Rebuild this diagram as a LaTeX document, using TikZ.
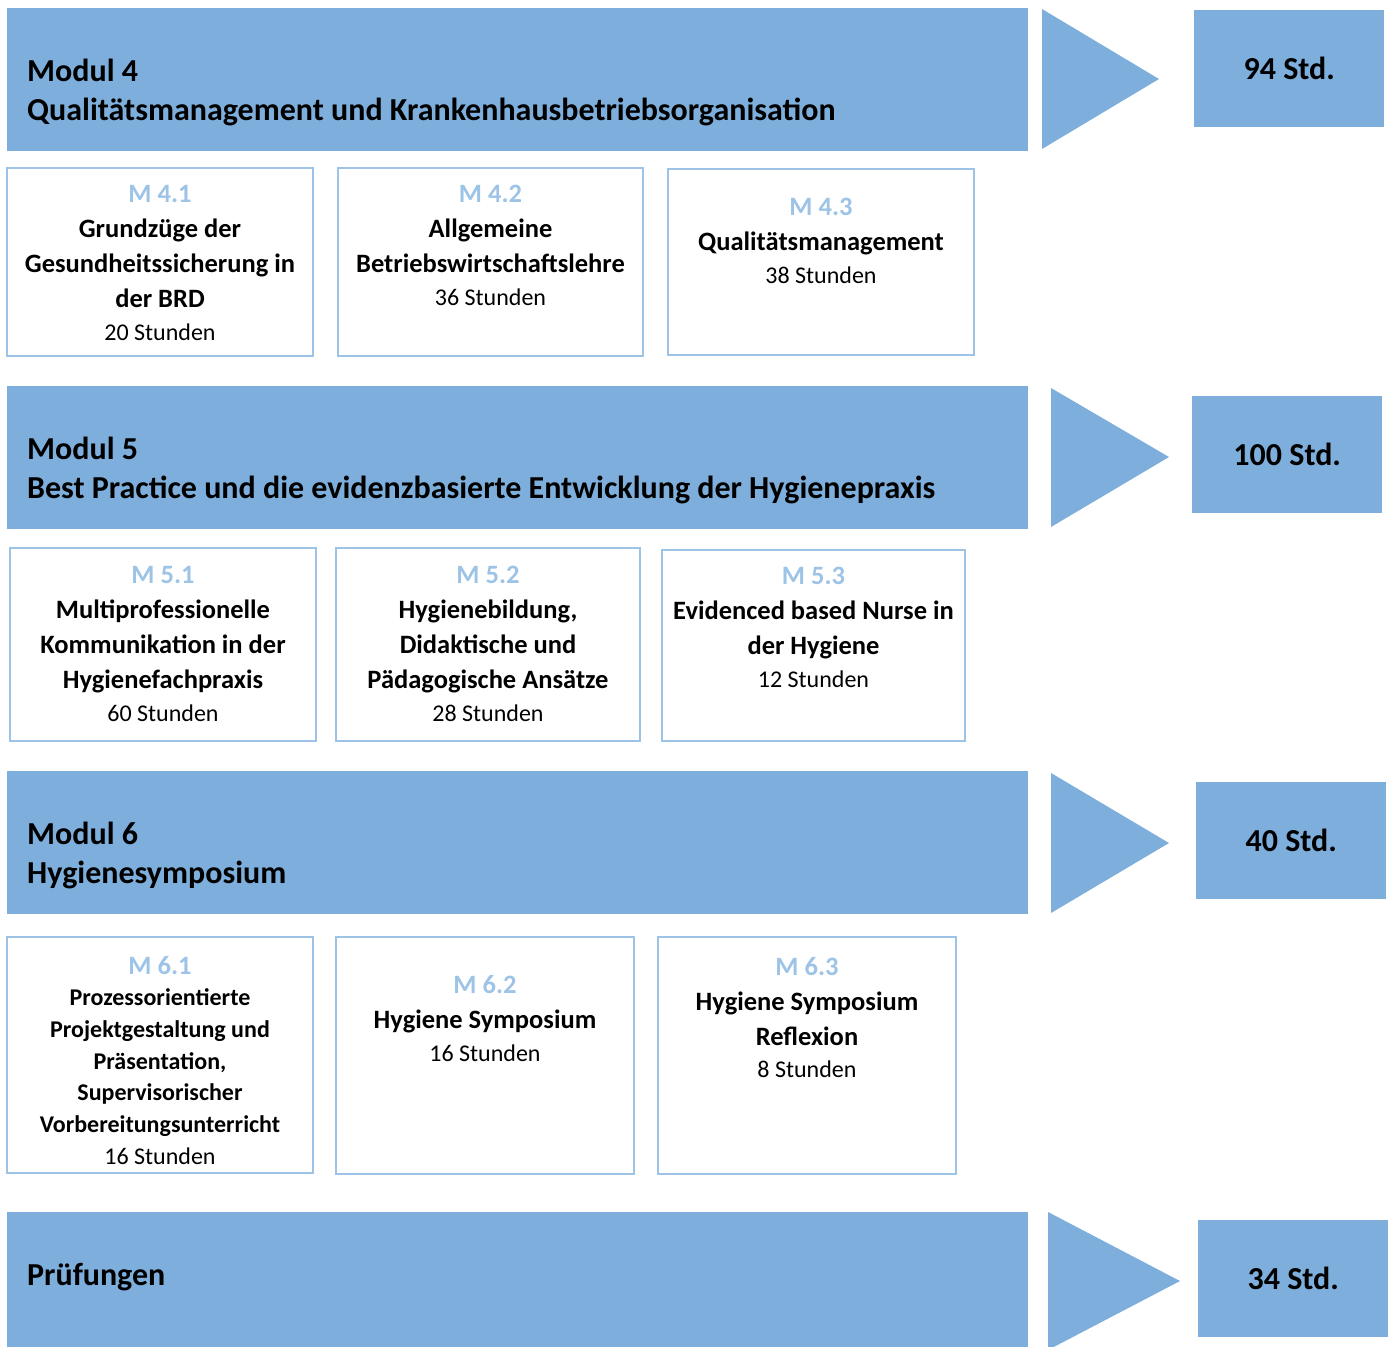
\documentclass[tikz,border=0pt]{standalone}
\usepackage{fontspec}
\setmainfont{Carlito}
\usetikzlibrary{positioning}
\definecolor{bandblue}{RGB}{125,174,220}
\definecolor{lineblue}{RGB}{157,195,230}
\newcommand{\mnr}[1]{\textcolor{lineblue}{#1}}
\newcommand{\hrs}[1]{{\mdseries\fontsize{24}{35}\selectfont #1}}

\begin{document}
\begin{tikzpicture}[x=1pt,y=-1pt,
    band/.style={fill=bandblue,anchor=north west,inner sep=0pt,outer sep=0pt,minimum width=1021pt,minimum height=143pt},
    hours/.style={fill=bandblue,anchor=north west,inner sep=0pt,minimum width=190pt,minimum height=117pt,text depth=-3pt,font=\bfseries\fontsize{32}{39}\selectfont},
    title/.style={inner sep=0pt,align=left,font=\bfseries\fontsize{32}{39}\selectfont},
    sub/.style={draw=lineblue,line width=2pt,inner sep=0pt,outer sep=0pt,minimum width=306pt},
    subtext/.style={inner sep=0pt,outer sep=0pt,align=center,font=\bfseries\fontsize{26.5}{35}\selectfont},
    arrowtri/.style={fill=bandblue}]
  \useasboundingbox (0,0) rectangle (1393,1347);
  \clip (0,0) rectangle (1393,1347);

  % Modul 4
  \node[band] (b4) at (7,8) {};
  \node[title,below right=51pt and 20pt of b4.north west] (t4) {Modul 4\\Qualitätsmanagement und Krankenhausbetriebsorganisation};
  \fill[arrowtri] (1042,9) -- (1159,79) -- (1042,149) -- cycle;
  \node[hours] (h4) at (1194,10) {94 Std.};
  \node[sub,minimum height=188pt,below=17pt of b4.south west,anchor=north west] (m41) {};
  \node[sub,minimum height=188pt,minimum width=305pt,right=25pt of m41] (m42) {};
  \node[sub,minimum height=186pt,right=25pt of m42] (m43) {};
  \node[subtext,below=17pt of m41.north] (s41) {\mnr{M 4.1}\\Grundzüge der\\Gesundheitssicherung in\\der BRD\\[-2pt]\hrs{20 Stunden}};
  \node[subtext,below=17pt of m42.north] (s42) {\mnr{M 4.2}\\Allgemeine\\Betriebswirtschaftslehre\\[-2pt]\hrs{36 Stunden}};
  \node[subtext,below=29pt of m43.north] (s43) {\mnr{M 4.3}\\Qualitätsmanagement\\[-2pt]\hrs{38 Stunden}};

  % Modul 5
  \node[band] (b5) at (7,386) {};
  \node[title,below right=51pt and 20pt of b5.north west] (t5) {Modul 5\\Best Practice und die evidenzbasierte Entwicklung der Hygienepraxis};
  \fill[arrowtri] (1051,388) -- (1169,457) -- (1051,527) -- cycle;
  \node[hours] (h5) at (1192,396) {100 Std.};
  \node[sub,minimum height=193pt,below=19pt of b5.south west,anchor=north west,xshift=3pt] (m51) {};
  \node[sub,minimum height=193pt,minimum width=304pt,right=20pt of m51] (m52) {};
  \node[sub,minimum height=191pt,minimum width=303pt,right=22pt of m52,yshift=-1pt] (m53) {};
  \node[subtext,below=18pt of m51.north] (s51) {\mnr{M 5.1}\\Multiprofessionelle\\Kommunikation in der\\Hygienefachpraxis\\[-2pt]\hrs{60 Stunden}};
  \node[subtext,below=18pt of m52.north] (s52) {\mnr{M 5.2}\\Hygienebildung,\\Didaktische und\\Pädagogische Ansätze\\[-2pt]\hrs{28 Stunden}};
  \node[subtext,below=17pt of m53.north] (s53) {\mnr{M 5.3}\\Evidenced based Nurse in\\der Hygiene\\[-2pt]\hrs{12 Stunden}};

  % Modul 6
  \node[band] (b6) at (7,771) {};
  \node[title,below right=51pt and 20pt of b6.north west] (t6) {Modul 6\\Hygienesymposium};
  \fill[arrowtri] (1051,773) -- (1169,843) -- (1051,913) -- cycle;
  \node[hours] (h6) at (1196,782) {40 Std.};
  \node[sub,minimum height=236pt,below=23pt of b6.south west,anchor=north west] (m61) {};
  \node[sub,minimum height=237pt,minimum width=298pt,right=23pt of m61] (m62) {};
  \node[sub,minimum height=237pt,minimum width=298pt,right=24pt of m62] (m63) {};
  \node[subtext,font=\bfseries\fontsize{24}{31.7}\selectfont,below=19pt of m61.north] (s61) {{\fontsize{26.5}{31.7}\selectfont\mnr{M 6.1}}\\Prozessorientierte\\Projektgestaltung und\\Präsentation,\\Supervisorischer\\Vorbereitungsunterricht\\\hrs{16 Stunden}};
  \node[subtext,below=39pt of m62.north] (s62) {\mnr{M 6.2}\\Hygiene Symposium\\[-2pt]\hrs{16 Stunden}};
  \node[subtext,below=21pt of m63.north] (s63) {\mnr{M 6.3}\\Hygiene Symposium\\Reflexion\\[-3pt]\hrs{8 Stunden}};

  % Pruefungen
  \node[band] (b7) at (7,1212) {};
  \node[title,below right=51pt and 20pt of b7.north west] (t7) {Prüfungen};
  \fill[arrowtri] (1048,1212) -- (1180,1281) -- (1048,1350) -- cycle;
  \node[hours] (h7) at (1198,1220) {34 Std.};
\end{tikzpicture}
\end{document}
